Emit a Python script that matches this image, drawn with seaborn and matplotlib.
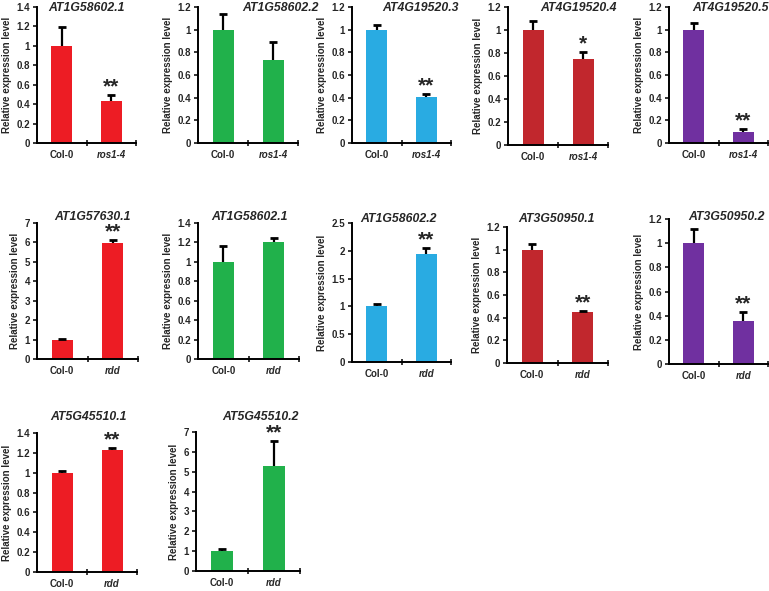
import pandas as pd
import matplotlib
matplotlib.use("Agg")
import matplotlib.pyplot as plt
import seaborn as sns
from matplotlib.ticker import FuncFormatter

# ---- data -------------------------------------------------------------
genes = ["AT1G58602.1", "AT1G58602.2", "AT4G19520.3", "AT4G19520.4", "AT4G19520.5",
         "AT1G57630.1", "AT1G58602.1", "AT1G58602.2", "AT3G50950.1", "AT3G50950.2",
         "AT5G45510.1", "AT5G45510.2"]
mutants = ["ros1-4"] * 5 + ["rdd"] * 7
col0_mean = [1.0, 1.0, 1.0, 1.0, 1.0, 1.0, 1.0, 1.0, 1.0, 1.0, 1.0, 1.0]
col0_err = [0.19, 0.14, 0.04, 0.08, 0.06, 0.05, 0.16, 0.05, 0.05, 0.12, 0.015, 0.13]
mut_mean = [0.43, 0.73, 0.41, 0.75, 0.10, 5.97, 1.20, 1.95, 0.45, 0.36, 1.23, 5.28]
mut_err = [0.06, 0.16, 0.02, 0.06, 0.02, 0.18, 0.05, 0.10, 0.01, 0.07, 0.02, 1.25]
stars = ["**", "", "**", "*", "**", "**", "", "**", "**", "**", "**", "**"]
y_max = [1.4, 1.2, 1.2, 1.2, 1.2, 7, 1.4, 2.5, 1.2, 1.2, 1.4, 7]
y_step = [0.2, 0.2, 0.2, 0.2, 0.2, 1, 0.2, 0.5, 0.2, 0.2, 0.2, 1]

RED, GREEN, BLUE, DARKRED, PURPLE = "#ED1C24", "#21B14B", "#29ABE2", "#C1272D", "#7030A0"
colors = [RED, GREEN, BLUE, DARKRED, PURPLE,
          RED, GREEN, BLUE, DARKRED, PURPLE,
          RED, GREEN]

# ---- layout (pixels: left, top, right, bottom) and title centres -------
W, H = 769, 591
boxes = [(37, 7, 136, 143), (198, 7, 298, 143), (352, 7, 451, 143), (508, 7, 608, 145), (669, 7, 768, 143),
         (37, 223, 138, 359), (198, 223, 299, 359), (352, 223, 451, 362), (507, 227, 608, 363), (669, 219, 768, 364),
         (37, 433, 137, 572), (196, 432, 300, 571)]
title_pos = [(87, 8), (281, 8), (420, 8), (578, 8), (731, 8),
             (92, 217), (250, 217), (398, 219), (557, 219), (727, 217),
             (89, 417), (261, 417)]

sns.set_style("ticks")
plt.rcParams["font.family"] = ["Liberation Sans", "DejaVu Sans"]
plt.rcParams["font.weight"] = "bold"

fig = plt.figure(figsize=(W / 100, H / 100), dpi=100)

fmt = FuncFormatter(lambda v, p: f"{v:g}")

for i in range(len(genes)):
    l, t, r, b = boxes[i]
    ax = fig.add_axes([l / W, 1 - b / H, (r - l) / W, (b - t) / H])
    df = pd.DataFrame({"genotype": ["Col-0", mutants[i]],
                       "value": [col0_mean[i], mut_mean[i]],
                       "err": [col0_err[i], mut_err[i]]})
    sns.barplot(data=df, x="genotype", y="value", color=colors[i], width=0.42,
                errorbar=None, saturation=1, linewidth=0, ax=ax)
    xs = [p.get_x() + p.get_width() / 2 for p in ax.patches]
    # upper error bars only (Excel "plus" style)
    eb = ax.errorbar(xs, df["value"], yerr=[[0, 0], df["err"]], fmt="none",
                     ecolor="black", elinewidth=1.6, capsize=3, capthick=2)
    eb[1][0].set_visible(False)
    if stars[i]:
        ax.annotate(stars[i], (xs[1], df["value"][1] + df["err"][1]),
                    xytext=(0, -1), textcoords="offset points",
                    ha="center", va="bottom", fontsize=15, fontweight="bold")

    ax.set_ylim(0, y_max[i])
    n = int(round(y_max[i] / y_step[i]))
    ax.set_yticks([k * y_step[i] for k in range(n + 1)])
    ax.yaxis.set_major_formatter(fmt)
    ax.set_xlim(-0.5, 1.5)
    ax.set_xticks([0, 1])
    ax.set_xticklabels(["Col-0", mutants[i]])
    ax.get_xticklabels()[1].set_style("italic")
    ax.set_xticks([0.5, 1.5], minor=True)
    ax.tick_params(axis="x", which="major", length=0, pad=5, labelsize=7)
    ax.tick_params(axis="x", which="minor", length=4, width=1.3, direction="inout")
    ax.tick_params(axis="y", length=3, width=1.3, pad=2, labelsize=7)
    for lab in ax.get_xticklabels() + ax.get_yticklabels():
        lab.set_fontweight("bold")
    ax.set_xlabel("")
    ax.set_ylabel("Relative expression level", fontsize=7, fontweight="bold", labelpad=3)
    sns.despine(ax=ax)
    for s in ["left", "bottom"]:
        ax.spines[s].set_linewidth(1.4)
        ax.spines[s].set_color("black")

    tx, ty = title_pos[i]
    fig.text(tx / W, 1 - ty / H, genes[i], ha="center", va="center",
             fontsize=8.8, fontweight="bold", style="italic")

fig.savefig("out.png", dpi=100)
